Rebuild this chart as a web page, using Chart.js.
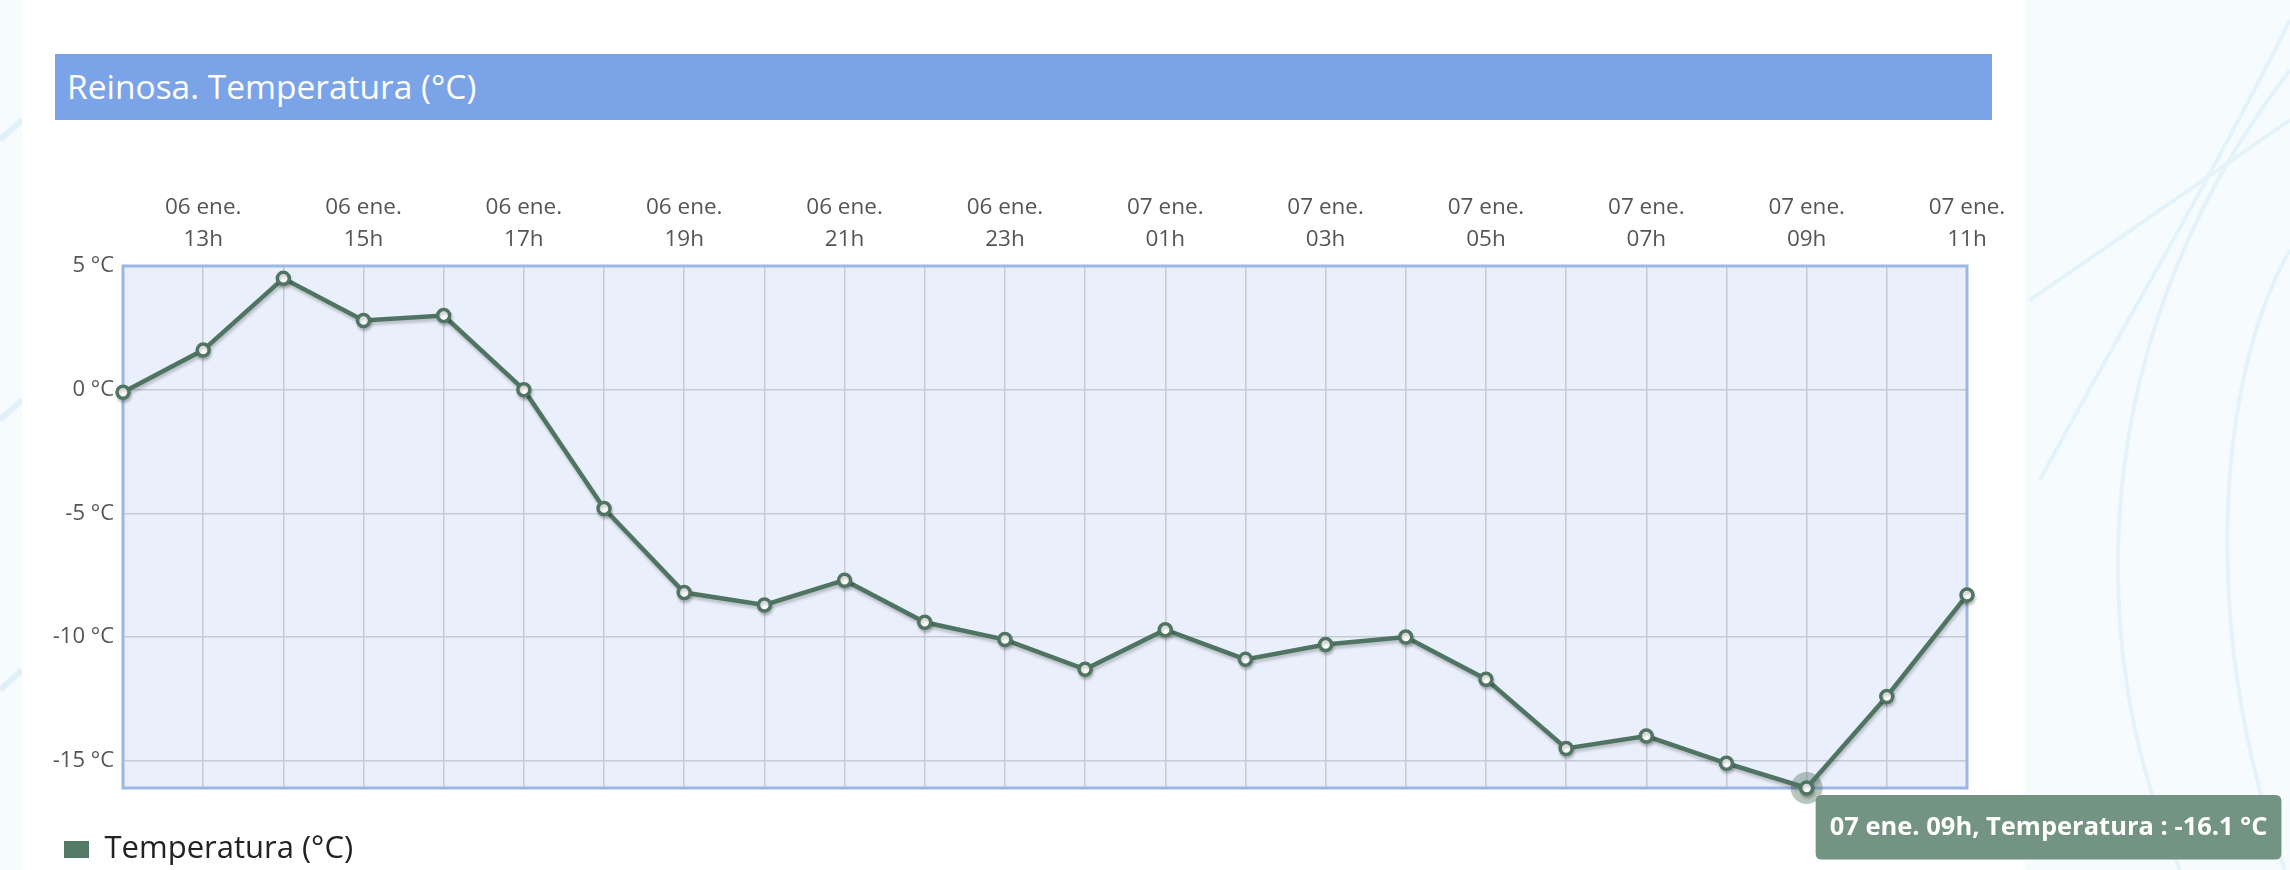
<!DOCTYPE html>
<html lang="es">
<head>
<meta charset="utf-8">
<title>Reinosa. Temperatura (°C)</title>
<script src="https://cdn.jsdelivr.net/npm/chart.js@4.4.1/dist/chart.umd.min.js"></script>
<style>
  html, body { margin: 0; padding: 0; }
  body {
    position: relative;
    width: 2290px;
    height: 870px;
    overflow: hidden;
    background: #f6fbfe;
    font-family: 'Open Sans', sans-serif;
  }
  #deco { position: absolute; left: 0; top: 0; }
  .panel {
    position: absolute; left: 22px; top: 0;
    width: 2003px; height: 870px;
    background: #fff;
  }
  .chart-title {
    position: absolute; left: 55px; top: 54px;
    width: 1937px; height: 66px;
    box-sizing: border-box;
    padding-left: 12px;
    background: #7ba3e7;
    color: #fff;
    font-size: 33.5px;
    line-height: 64px;
  }
  .chart-box {
    position: absolute; left: 0; top: 120px;
    width: 2290px; height: 755px;
  }
</style>
</head>
<body>
<svg id="deco" width="2290" height="870" xmlns="http://www.w3.org/2000/svg">
  <g fill="none" stroke="#e4f3fa" stroke-width="4">
    <path d="M2180 870 C2080 640 2090 330 2290 70" />
    <path d="M2285 870 C2200 640 2215 380 2290 250" />
    <path d="M2040 480 C2120 330 2200 200 2290 20" />
    <path d="M2030 300 L2290 120" />
  </g>
  <g fill="none" stroke="#e1f0f8" stroke-width="6">
    <path d="M0 140 C10 130 18 125 22 120" />
    <path d="M0 420 C10 410 18 405 22 400" />
    <path d="M0 690 C10 680 18 675 22 670" />
  </g>
</svg>
<div class="panel"></div>
<div class="chart-title">Reinosa. Temperatura (°C)</div>
<div class="chart-box"><canvas id="temp-chart"></canvas></div>

<script>
  // ------------------------------------------------------
  // @Data
  // ------------------------------------------------------

  const days = [
    '06 ene.', '06 ene.', '06 ene.', '06 ene.', '06 ene.', '06 ene.',
    '06 ene.', '06 ene.', '06 ene.', '06 ene.', '06 ene.', '06 ene.',
    '07 ene.', '07 ene.', '07 ene.', '07 ene.', '07 ene.', '07 ene.',
    '07 ene.', '07 ene.', '07 ene.', '07 ene.', '07 ene.', '07 ene.',
  ];
  const hours = [
    '12h', '13h', '14h', '15h', '16h', '17h', '18h', '19h', '20h', '21h', '22h', '23h',
    '00h', '01h', '02h', '03h', '04h', '05h', '06h', '07h', '08h', '09h', '10h', '11h',
  ];
  const temperatures = [
    -0.1, 1.6, 4.5, 2.8, 3.0, 0.0, -4.8, -8.2, -8.7, -7.7, -9.4, -10.1,
    -11.3, -9.7, -10.9, -10.3, -10.0, -11.7, -14.5, -14.0, -15.1, -16.1, -12.4, -8.3,
  ];
  const yTickValues = [5, 0, -5, -10, -15];
  const yMin = -16.1;
  const yMax = 5;
  const tooltipIndex = 21;

  const LINE_COLOR = '#4f7462';
  const GRID_COLOR = '#c6cad3';
  const FONT = "'Open Sans', sans-serif";

  Chart.defaults.font.family = FONT;

  // tooltip sits below and to the right of the hovered point
  Chart.Tooltip.positioners.belowRight = function (items) {
    if (!items.length) {
      return false;
    }
    const el = items[0].element;
    return { x: el.x + 15, y: el.y + 7 };
  };

  // plot background, frame and hover halo
  const plotFrame = {
    id: 'plotFrame',
    beforeDraw(chart) {
      const { ctx, chartArea: a } = chart;
      ctx.save();
      ctx.fillStyle = '#e9effb';
      ctx.fillRect(a.left, a.top, a.right - a.left, a.bottom - a.top);
      ctx.restore();
    },
    beforeDatasetsDraw(chart) {
      const { ctx, chartArea: a } = chart;
      ctx.save();
      ctx.strokeStyle = '#9cb7e6';
      ctx.lineWidth = 3;
      ctx.strokeRect(a.left, a.top, a.right - a.left, a.bottom - a.top);
      chart.getActiveElements().forEach(({ element }) => {
        ctx.beginPath();
        ctx.fillStyle = 'rgba(79, 116, 98, 0.4)';
        ctx.arc(element.x, element.y, 16, 0, Math.PI * 2);
        ctx.fill();
      });
      ctx.restore();
    },
  };

  // soft shadow under the series
  const lineShadow = {
    id: 'lineShadow',
    beforeDatasetDraw(chart) {
      const ctx = chart.ctx;
      ctx.save();
      ctx.shadowColor = 'rgba(0, 0, 0, 0.2)';
      ctx.shadowOffsetX = 1;
      ctx.shadowOffsetY = 3;
      ctx.shadowBlur = 3;
    },
    afterDatasetDraw(chart) {
      chart.ctx.restore();
    },
  };

  // ------------------------------------------------------
  // @Line Chart
  // ------------------------------------------------------

  const tempChartBox = document.getElementById('temp-chart');

  if (tempChartBox) {
    const tempCtx = tempChartBox.getContext('2d');

    const chart = new Chart(tempCtx, {
      type: 'line',
      data: {
        labels: hours.map((h, i) => days[i] + ' ' + h),
        datasets: [{
          label                     : 'Temperatura (°C)',
          data                      : temperatures,
          borderColor               : LINE_COLOR,
          backgroundColor           : LINE_COLOR,
          borderWidth               : 4.5,
          tension                   : 0,
          fill                      : false,
          clip                      : false,
          pointRadius               : 6,
          pointBorderWidth          : 3.5,
          pointBackgroundColor      : '#fff',
          pointBorderColor          : LINE_COLOR,
          pointHoverRadius          : 6,
          pointHoverBorderWidth     : 3.5,
          pointHoverBackgroundColor : '#fff',
          pointHoverBorderColor     : LINE_COLOR,
        }],
      },
      plugins: [plotFrame, lineShadow],
      options: {
        responsive: true,
        maintainAspectRatio: false,
        devicePixelRatio: 1,
        animation: false,
        events: [],
        layout: {
          padding: { left: 18, right: 323, top: 0, bottom: 0 },
        },
        scales: {
          x: {
            position: 'top',
            grid: { color: GRID_COLOR, lineWidth: 1.5, drawTicks: false },
            border: { display: false },
            ticks: {
              autoSkip: false,
              maxRotation: 0,
              padding: 10,
              color: '#555',
              font: { size: 22.5, lineHeight: '32px' },
              callback: (value, index) => (index % 2 === 1 ? [days[index], hours[index]] : ''),
            },
            afterFit: (axis) => { axis.height = 146; },
          },
          y: {
            min: yMin,
            max: yMax,
            grid: { color: GRID_COLOR, lineWidth: 1.5, drawTicks: false },
            border: { display: false },
            ticks: {
              padding: 9,
              color: '#555',
              font: { size: 22 },
              callback: (value) => value + ' °C',
            },
            afterBuildTicks: (axis) => { axis.ticks = yTickValues.map((v) => ({ value: v })); },
            afterFit: (axis) => { axis.width = 105; },
          },
        },
        plugins: {
          legend: {
            position: 'bottom',
            align: 'start',
            labels: {
              boxWidth: 25,
              boxHeight: 17,
              padding: 46,
              color: '#222',
              font: { size: 31 },
              generateLabels: (c) => Chart.defaults.plugins.legend.labels.generateLabels(c)
                .map((item) => Object.assign(item, { lineWidth: 0, fillStyle: '#527a66' })),
            },
          },
          tooltip: {
            position: 'belowRight',
            xAlign: 'left',
            yAlign: 'top',
            caretSize: 0,
            caretPadding: 0,
            cornerRadius: 6,
            backgroundColor: '#739383',
            displayColors: false,
            padding: { left: 14, right: 14, top: 17, bottom: 17 },
            bodyColor: '#fff',
            bodyFont: { size: 25.5, weight: 'bold' },
            callbacks: {
              title: () => '',
              label: (item) => days[item.dataIndex] + ' ' + hours[item.dataIndex]
                + ', Temperatura : ' + item.parsed.y.toFixed(1) + ' °C',
            },
          },
        },
      },
    });

    const active = [{ datasetIndex: 0, index: tooltipIndex }];
    chart.setActiveElements(active);
    chart.tooltip.setActiveElements(active, { x: 0, y: 0 });
    chart.draw();
  }
</script>
</body>
</html>
